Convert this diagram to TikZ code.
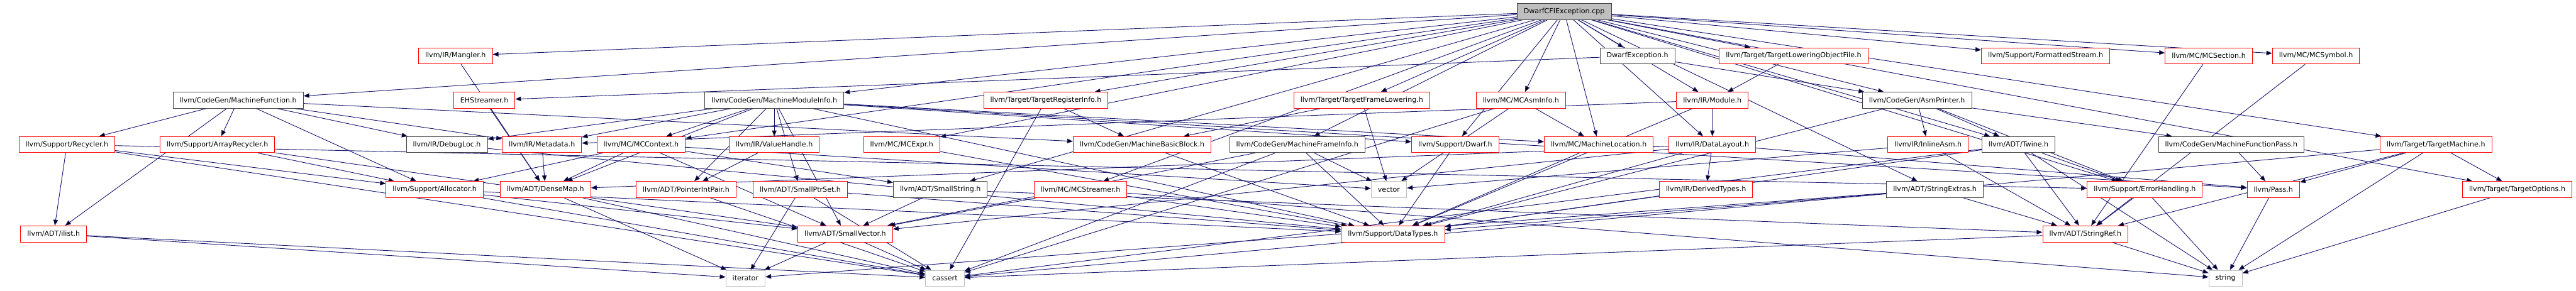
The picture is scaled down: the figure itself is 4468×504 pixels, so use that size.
\documentclass[tikz,border=0pt]{standalone}
\usepackage{fontspec}
\setmainfont{DejaVu Sans}
\usetikzlibrary{arrows.meta, backgrounds}
\definecolor{edgeblue}{HTML}{191970}
\definecolor{boxgray}{HTML}{BFBFBF}
\definecolor{boxdark}{HTML}{404040}

\begin{document}
\begin{tikzpicture}[x=1pt, y=1pt, font=\fontsize{12.1}{14}\selectfont,
    box/.style={draw=boxdark, fill=white, line width=1pt, minimum height=28pt, inner xsep=11.5pt, inner ysep=0pt},
    redbox/.style={box, draw=red},
    sysbox/.style={box, draw=boxgray},
    rootbox/.style={box, fill=boxgray},
    dep/.style={draw=edgeblue, line width=1pt, -{Triangle[length=10pt, width=8pt]}}]
    \useasboundingbox (0,0) rectangle (4468,-504);

    \node[rootbox] (root) at (2713,-20) {DwarfCFIException.cpp};

    \node[redbox] (mangler) at (790,-97) {llvm/IR/Mangler.h};
    \node[box] (dwexc) at (2840,-97) {DwarfException.h};
    \node[redbox] (tlof) at (3111,-97) {llvm/Target/TargetLoweringObjectFile.h};
    \node[redbox] (fstream) at (3548,-97) {llvm/Support/FormattedStream.h};
    \node[redbox] (mcsection) at (3831,-97) {llvm/MC/MCSection.h};
    \node[redbox] (mcsymbol) at (4017,-97) {llvm/MC/MCSymbol.h};

    \node[box] (mfunc) at (413,-174) {llvm/CodeGen/MachineFunction.h};
    \node[redbox] (ehstr) at (840,-174) {EHStreamer.h};
    \node[box] (mmi) at (1343,-174) {llvm/CodeGen/MachineModuleInfo.h};
    \node[redbox] (treginfo) at (1814,-174) {llvm/Target/TargetRegisterInfo.h};
    \node[redbox] (tframe) at (2362,-174) {llvm/Target/TargetFrameLowering.h};
    \node[redbox] (mcasminfo) at (2638,-174) {llvm/MC/MCAsmInfo.h};
    \node[redbox] (module) at (2970,-174) {llvm/IR/Module.h};
    \node[box] (asmprinter) at (3325,-174) {llvm/CodeGen/AsmPrinter.h};

    \node[redbox] (recycler) at (116,-251) {llvm/Support/Recycler.h};
    \node[redbox] (arecycler) at (377,-251) {llvm/Support/ArrayRecycler.h};
    \node[box] (debugloc) at (775,-251) {llvm/IR/DebugLoc.h};
    \node[redbox] (metadata) at (940,-251) {llvm/IR/Metadata.h};
    \node[redbox] (mccontext) at (1112,-251) {llvm/MC/MCContext.h};
    \node[redbox] (valuehandle) at (1343,-251) {llvm/IR/ValueHandle.h};
    \node[redbox] (mcexpr) at (1564,-251) {llvm/MC/MCExpr.h};
    \node[redbox] (mbb) at (1981,-251) {llvm/CodeGen/MachineBasicBlock.h};
    \node[box] (mframe) at (2250,-251) {llvm/CodeGen/MachineFrameInfo.h};
    \node[redbox] (dwarf) at (2524,-251) {llvm/Support/Dwarf.h};
    \node[redbox] (mloc) at (2773,-251) {llvm/MC/MachineLocation.h};
    \node[redbox] (datalayout) at (2970,-251) {llvm/IR/DataLayout.h};
    \node[redbox] (inlineasm) at (3344,-251) {llvm/IR/InlineAsm.h};
    \node[box] (twine) at (3501,-251) {llvm/ADT/Twine.h};
    \node[box] (mfpass) at (3870,-251) {llvm/CodeGen/MachineFunctionPass.h};
    \node[redbox] (tmachine) at (4225,-251) {llvm/Target/TargetMachine.h};

    \node[redbox] (allocator) at (754,-329) {llvm/Support/Allocator.h};
    \node[redbox] (densemap) at (946,-329) {llvm/ADT/DenseMap.h};
    \node[redbox] (pip) at (1190,-329) {llvm/ADT/PointerIntPair.h};
    \node[redbox] (smallptrset) at (1388,-329) {llvm/ADT/SmallPtrSet.h};
    \node[box] (smallstring) at (1631,-329) {llvm/ADT/SmallString.h};
    \node[redbox] (mcstreamer) at (1874,-329) {llvm/MC/MCStreamer.h};
    \node[sysbox] (vector) at (2409,-329) {vector};
    \node[redbox] (derivedtypes) at (2959,-329) {llvm/IR/DerivedTypes.h};
    \node[box] (strextras) at (3356,-329) {llvm/ADT/StringExtras.h};
    \node[redbox] (errhandling) at (3720,-329) {llvm/Support/ErrorHandling.h};
    \node[redbox] (pass) at (3943,-329) {llvm/Pass.h};
    \node[redbox] (toptions) at (4366,-329) {llvm/Target/TargetOptions.h};

    \node[redbox] (ilist) at (93,-406) {llvm/ADT/ilist.h};
    \node[redbox] (smallvector) at (1466,-406) {llvm/ADT/SmallVector.h};
    \node[redbox] (datatypes) at (2416,-406) {llvm/Support/DataTypes.h};
    \node[redbox] (stringref) at (3617,-406) {llvm/ADT/StringRef.h};

    \node[sysbox] (iterator) at (1293,-483) {iterator};
    \node[sysbox] (cassert) at (1639,-483) {cassert};
    \node[sysbox] (string) at (3860,-483) {string};

    \begin{scope}[on background layer]
    \path[dep] (root) edge (dwexc) edge (smallstring) edge (strextras) edge (twine) edge (asmprinter)
        edge (mframe) edge (mfunc) edge (mmi) edge (datalayout) edge (mangler) edge (module)
        edge (mcasminfo) edge (mccontext) edge (mcexpr) edge (mcsection) edge (mcstreamer)
        edge (mcsymbol) edge (mloc) edge (dwarf) edge (errhandling) edge (fstream) edge (tframe)
        edge (tlof) edge (tmachine) edge (toptions) edge (treginfo);
    \path[dep] (dwexc) edge (ehstr) edge (asmprinter);
    \path[dep] (ehstr) edge (densemap);
    \path[dep] (mangler) edge (densemap);
    \path[dep] (tlof) edge (module);
    \path[dep] (mfunc) edge (ilist) edge (recycler) edge (arecycler) edge (mbb) edge (debugloc)
        edge (metadata) edge (allocator);
    \path[dep] (mmi) edge (densemap) edge (pip) edge (smallptrset) edge (smallvector) edge (debugloc)
        edge (metadata) edge (valuehandle) edge (mccontext) edge (mloc) edge (pass) edge (datatypes)
        edge (dwarf);
    \path[dep] (treginfo) edge (mbb) edge (cassert);
    \path[dep] (tframe) edge (mbb) edge (vector);
    \path[dep] (mcasminfo) edge (mloc) edge (vector) edge (cassert);
    \path[dep] (module) edge (datalayout) edge (metadata) edge (datatypes);
    \path[dep] (asmprinter) edge (inlineasm) edge (twine) edge (mfpass) edge (errhandling) edge (datatypes);
    \path[dep] (recycler) edge (ilist) edge (allocator) edge (errhandling) edge (cassert);
    \path[dep] (arecycler) edge (smallvector) edge (allocator);
    \path[dep] (debugloc) edge (datatypes);
    \path[dep] (metadata) edge (densemap);
    \path[dep] (mccontext) edge (allocator) edge (densemap) edge (smallstring) edge (smallvector) edge (vector);
    \path[dep] (valuehandle) edge (pip);
    \path[dep] (mcexpr) edge (datatypes);
    \path[dep] (mbb) edge (datatypes);
    \path[dep] (mframe) edge (smallvector) edge (datatypes) edge (cassert) edge (vector);
    \path[dep] (dwarf) edge (datatypes);
    \path[dep] (mloc) edge (datatypes);
    \path[dep] (datalayout) edge (densemap) edge (smallvector) edge (derivedtypes) edge (pass) edge (datatypes);
    \path[dep] (inlineasm) edge (stringref) edge (vector);
    \path[dep] (twine) edge (stringref) edge (datatypes) edge (errhandling) edge (cassert) edge (string);
    \path[dep] (mfpass) edge (pass);
    \path[dep] (tmachine) edge (stringref) edge (pass) edge (toptions) edge (cassert) edge (string);
    \path[dep] (allocator) edge (smallvector) edge (datatypes) edge (cassert);
    \path[dep] (densemap) edge (iterator) edge (cassert);
    \path[dep] (pip) edge (cassert);
    \path[dep] (smallptrset) edge (iterator) edge (cassert) edge (datatypes);
    \path[dep] (smallstring) edge (smallvector) edge (stringref);
    \path[dep] (mcstreamer) edge (smallvector) edge (datatypes) edge (string);
    \path[dep] (derivedtypes) edge (datatypes);
    \path[dep] (strextras) edge (stringref) edge (datatypes) edge (iterator);
    \path[dep] (errhandling) edge (stringref) edge (string);
    \path[dep] (pass) edge (string);
    \path[dep] (toptions) edge (string);
    \path[dep] (mcsection) edge (stringref);
    \path[dep] (mcsymbol) edge (stringref);
    \path[dep] (ilist) edge (iterator) edge (cassert);
    \path[dep] (smallvector) edge (iterator) edge (cassert);
    \path[dep] (stringref) edge (cassert) edge (string);
    \end{scope}
\end{tikzpicture}
\end{document}
